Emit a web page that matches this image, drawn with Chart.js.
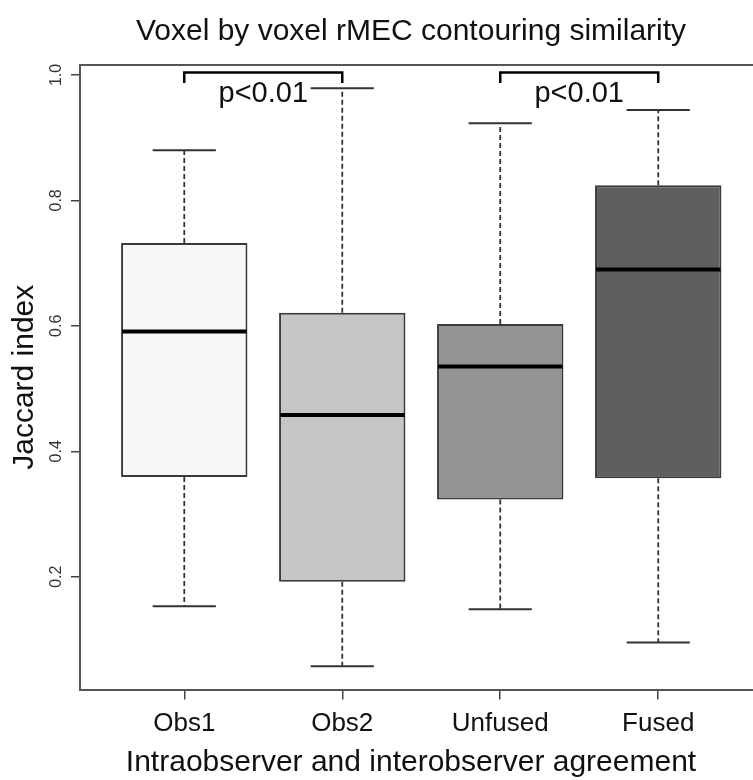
<!DOCTYPE html>
<html><head><meta charset="utf-8">
<script src="https://cdn.jsdelivr.net/npm/chart.js@4"></script>
<style>
html,body{margin:0;padding:0;background:#fff;overflow:hidden}
#wrap{width:753px;height:780px;overflow:hidden;position:relative;background:#fff}
canvas{display:block}
</style></head><body>
<div id="wrap"><canvas id="c" width="822" height="780"></canvas></div>
<script>
// ---- data ----
const categories = ['Obs1', 'Obs2', 'Unfused', 'Fused'];
const lowerWhisker = [0.153, 0.057, 0.148, 0.095];
const lowerQuartile = [0.359, 0.192, 0.323, 0.357];
const medians = [0.591, 0.458, 0.535, 0.690];
const upperQuartile = [0.732, 0.621, 0.603, 0.824];
const upperWhisker = [0.880, 0.979, 0.923, 0.944];
const yTickValues = [0.2, 0.4, 0.6, 0.8, 1.0];
const comparisonPairs = [[0, 1], [2, 3]];
const comparisonLabels = ['p<0.01', 'p<0.01'];

// ---- styles ----
const boxFill = ['#f8f8f8', '#c6c6c6', '#949494', '#5f5f5f'];
const FONT = "'Liberation Sans', Arial, Helvetica, sans-serif";

// R-style axis ranges (4% extension)
const dataMin = Math.min(...lowerWhisker), dataMax = Math.max(...upperWhisker);
const yExt = (dataMax - dataMin) * 0.04;
const xExt = categories.length * 0.04;

const boxplotDecor = {
  id: 'boxplotDecor',
  beforeDatasetsDraw(chart) {
    const {ctx, scales: {x, y}} = chart;
    const meta = chart.getDatasetMeta(0);
    ctx.save();
    ctx.strokeStyle = '#333';
    categories.forEach((c, i) => {
      const px = x.getPixelForValue(i + 1);
      const half = meta.data[i].width * 0.25;
      ctx.lineWidth = 1.8;
      ctx.setLineDash([5, 3]);
      ctx.beginPath();
      ctx.moveTo(px, y.getPixelForValue(upperQuartile[i]));
      ctx.lineTo(px, y.getPixelForValue(upperWhisker[i]));
      ctx.moveTo(px, y.getPixelForValue(lowerQuartile[i]));
      ctx.lineTo(px, y.getPixelForValue(lowerWhisker[i]));
      ctx.stroke();
      ctx.setLineDash([]);
      ctx.lineWidth = 2;
      ctx.beginPath();
      const yh = y.getPixelForValue(upperWhisker[i]);
      const yl = y.getPixelForValue(lowerWhisker[i]);
      ctx.moveTo(px - half, yh); ctx.lineTo(px + half, yh);
      ctx.moveTo(px - half, yl); ctx.lineTo(px + half, yl);
      ctx.stroke();
    });
    ctx.restore();
  },
  afterDatasetsDraw(chart) {
    const {ctx, scales: {y}} = chart;
    const meta = chart.getDatasetMeta(0);
    ctx.save();
    ctx.strokeStyle = '#000';
    ctx.lineWidth = 4;
    categories.forEach((c, i) => {
      const el = meta.data[i];
      const py = y.getPixelForValue(medians[i]);
      ctx.beginPath();
      ctx.moveTo(el.x - el.width / 2 + 1, py);
      ctx.lineTo(el.x + el.width / 2 - 1, py);
      ctx.stroke();
    });
    ctx.restore();
  },
  afterDraw(chart) {
    const {ctx, chartArea: a, scales: {x}} = chart;
    ctx.save();
    // remaining frame sides (R box)
    ctx.strokeStyle = '#555';
    ctx.lineWidth = 2;
    ctx.beginPath();
    ctx.moveTo(a.left, a.top); ctx.lineTo(a.right, a.top); ctx.lineTo(a.right, a.bottom);
    ctx.stroke();
    // significance brackets
    ctx.strokeStyle = '#000';
    ctx.lineWidth = 2.5;
    ctx.fillStyle = '#111';
    ctx.font = '29px ' + FONT;
    ctx.textAlign = 'center';
    ctx.textBaseline = 'alphabetic';
    comparisonPairs.forEach((p, k) => {
      const xa = x.getPixelForValue(p[0] + 1);
      const xb = x.getPixelForValue(p[1] + 1);
      const top = a.top + 7.5, leg = a.top + 18;
      ctx.beginPath();
      ctx.moveTo(xa, leg); ctx.lineTo(xa, top); ctx.lineTo(xb, top); ctx.lineTo(xb, leg);
      ctx.stroke();
      ctx.fillText(comparisonLabels[k], (xa + xb) / 2, a.top + 36.5);
    });
    ctx.restore();
  }
};

new Chart(document.getElementById('c'), {
  type: 'bar',
  data: {
    datasets: [{
      data: categories.map((c, i) => ({x: i + 1, y: [lowerQuartile[i], upperQuartile[i]]})),
      backgroundColor: boxFill,
      borderColor: '#3a3a3a',
      borderWidth: 2,
      borderSkipped: false,
      categoryPercentage: 0.8,
      barPercentage: 1
    }]
  },
  options: {
    responsive: false,
    animation: false,
    devicePixelRatio: 1,
    layout: {padding: 0},
    plugins: {
      legend: {display: false},
      tooltip: {enabled: false},
      title: {
        display: true,
        text: 'Voxel by voxel rMEC contouring similarity',
        color: '#111',
        font: {family: FONT, size: 30, weight: 'normal', lineHeight: 1.2},
        padding: {top: 14, bottom: 15}
      },
      subtitle: {
        display: true,
        position: 'bottom',
        text: 'Intraobserver and interobserver agreement',
        color: '#111',
        font: {family: FONT, size: 30, weight: 'normal', lineHeight: 1},
        padding: {top: 0, bottom: 2}
      }
    },
    scales: {
      x: {
        type: 'linear',
        min: 0.5 - xExt,
        max: categories.length + 0.5 + xExt,
        offset: false,
        afterBuildTicks(s) { s.ticks = categories.map((c, i) => ({value: i + 1})); },
        afterFit(s) { s.height = 58.5; },
        ticks: {
          callback: (v) => categories[Math.round(v) - 1],
          font: {family: FONT, size: 26},
          color: '#111',
          padding: 9,
          autoSkip: false,
          maxRotation: 0
        },
        grid: {display: true, offset: false, drawOnChartArea: false, drawTicks: true, tickLength: 10, color: '#444', lineWidth: 1.5},
        border: {display: true, color: '#555', width: 2}
      },
      y: {
        min: dataMin - yExt,
        max: dataMax + yExt,
        afterBuildTicks(s) { s.ticks = yTickValues.map(v => ({value: v})); },
        afterFit(s) { s.width = 80; },
        ticks: {
          callback: (v) => Number(v).toFixed(1),
          font: {family: FONT, size: 16},
          color: '#333',
          padding: 3.5,
          minRotation: 90,
          maxRotation: 90,
          crossAlign: 'center'
        },
        grid: {display: true, drawOnChartArea: false, drawTicks: true, tickLength: 9, color: '#444', lineWidth: 1.5},
        border: {display: true, color: '#555', width: 2},
        title: {
          display: true,
          text: 'Jaccard index',
          color: '#111',
          font: {family: FONT, size: 30, lineHeight: 1},
          padding: {top: 10, bottom: 0}
        }
      },
      yRightMargin: {
        type: 'linear',
        position: 'right',
        display: true,
        min: dataMin - yExt,
        max: dataMax + yExt,
        afterFit(s) { s.width = 59.5; },
        ticks: {display: false},
        grid: {display: false},
        border: {display: false}
      }
    }
  },
  plugins: [boxplotDecor]
});
</script>
</body></html>
